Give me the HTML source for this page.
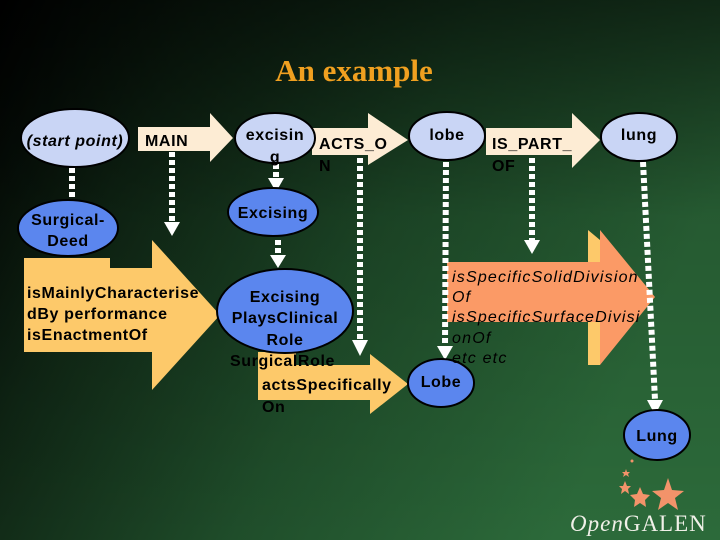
<!DOCTYPE html>
<html><head><style>
html,body{margin:0;padding:0;width:720px;height:540px;overflow:hidden}
svg{display:block}
text{font-family:"Liberation Sans",sans-serif;font-weight:bold;fill:#000}
</style></head><body>
<svg width="720" height="540" viewBox="0 0 720 540" xmlns="http://www.w3.org/2000/svg">
<defs>
<linearGradient id="bg" x1="0" y1="0" x2="1" y2="0.35">
<stop offset="0" stop-color="#000"/>
<stop offset="0.25" stop-color="#0f2514"/>
<stop offset="0.6" stop-color="#1f4d2a"/>
<stop offset="1" stop-color="#2c6a3a"/>
</linearGradient>
<linearGradient id="top" x1="0" y1="0" x2="0" y2="1">
<stop offset="0" stop-color="#000" stop-opacity="0.6"/>
<stop offset="0.4" stop-color="#000" stop-opacity="0.15"/>
<stop offset="1" stop-color="#000" stop-opacity="0"/>
</linearGradient>
</defs>
<rect width="720" height="540" fill="url(#bg)"/>
<rect width="720" height="540" fill="url(#top)"/>

<text x="354" y="81" text-anchor="middle" style="font-family:'Liberation Serif',serif;font-size:31px;fill:#f0a020">An example</text>

<polygon points="24,258 110,258 110,268 152,268 152,240 220,315 152,390 152,352 24,352" fill="#fdc96a"/>
<polygon points="588,230 600,240 600,365 588,365" fill="#fdc96a"/>
<polygon points="447,262 600,262 600,230 655,297 600,365 600,322 447,322" fill="#fb9a66"/>
<polygon points="258,352 296,352 296,365 370,365 370,354 408,384 370,414 370,400 258,400" fill="#fdc96a"/>

<polygon points="138,127 210,127 210,113 233,138 210,162 210,151 138,151" fill="#fdecd4"/>
<polygon points="312,128 368,128 368,113 408,140 368,165 368,155 312,155" fill="#fdecd4"/>
<polygon points="486,128 572,128 572,113 600,140 572,168 572,155 486,155" fill="#fdecd4"/>

<g stroke="#fff" stroke-width="6" stroke-dasharray="5,3" fill="none">
<line x1="72" y1="168" x2="72" y2="215"/>
<line x1="172" y1="152" x2="172" y2="222"/>
<line x1="276" y1="164" x2="276" y2="178"/>
<line x1="278" y1="240" x2="278" y2="255"/>
<line x1="360" y1="158" x2="360" y2="340"/>
<line x1="446" y1="162" x2="445" y2="346"/>
<line x1="532" y1="158" x2="532" y2="240"/>
<line x1="643" y1="162" x2="655" y2="400"/>
</g>
<g fill="#fff">
<polygon points="64,215 80,215 72,232"/>
<polygon points="164,222 180,222 172,236"/>
<polygon points="268,178 284,178 276,192"/>
<polygon points="270,255 286,255 278,268"/>
<polygon points="352,340 368,340 360,356"/>
<polygon points="437,346 453,346 445,360"/>
<polygon points="524,240 540,240 532,254"/>
<polygon points="647,400 663,400 655,415"/>
</g>

<g stroke="#000" stroke-width="2">
<ellipse cx="75" cy="138" rx="54" ry="29" fill="#c9d5f5"/>
<ellipse cx="275" cy="138" rx="40" ry="25" fill="#c9d5f5"/>
<ellipse cx="447" cy="136" rx="38" ry="24" fill="#c9d5f5"/>
<ellipse cx="639" cy="137" rx="38" ry="24" fill="#c9d5f5"/>
<ellipse cx="68" cy="228" rx="50" ry="28" fill="#5b86ee"/>
<ellipse cx="273" cy="212" rx="45" ry="24" fill="#5b86ee"/>
<ellipse cx="285" cy="311" rx="68" ry="42" fill="#5b86ee"/>
<ellipse cx="441" cy="383" rx="33" ry="24" fill="#5b86ee"/>
<ellipse cx="657" cy="435" rx="33" ry="25" fill="#5b86ee"/>
</g>

<g font-size="16" letter-spacing="0.6">
<text x="75" y="146" text-anchor="middle" font-style="italic">(start point)</text>
<text x="145" y="146">MAIN</text>
<text x="275" y="140" text-anchor="middle">excisin</text>
<text x="275" y="162" text-anchor="middle">g</text>
<text x="319" y="149">ACTS_O</text>
<text x="319" y="171">N</text>
<text x="447" y="140" text-anchor="middle">lobe</text>
<text x="492" y="149">IS_PART_</text>
<text x="492" y="171">OF</text>
<text x="639" y="140" text-anchor="middle">lung</text>
<text x="68" y="225" text-anchor="middle">Surgical-</text>
<text x="68" y="246" text-anchor="middle">Deed</text>
<text x="273" y="218" text-anchor="middle">Excising</text>
<text x="285" y="302" text-anchor="middle">Excising</text>
<text x="285" y="323" text-anchor="middle">PlaysClinical</text>
<text x="285" y="345" text-anchor="middle">Role</text>
<text x="230" y="366">SurgicalRole</text>
<text x="262" y="390">actsSpecifically</text>
<text x="262" y="412">On</text>
<text x="441" y="387" text-anchor="middle">Lobe</text>
<text x="657" y="441" text-anchor="middle">Lung</text>
<text x="27" y="298">isMainlyCharacterise</text>
<text x="27" y="319">dBy performance</text>
<text x="27" y="340">isEnactmentOf</text>
</g>
<g font-size="16" font-style="italic" letter-spacing="1.2">
<text x="452" y="282" style="font-weight:normal">isSpecificSolidDivision</text>
<text x="452" y="302" style="font-weight:normal">Of</text>
<text x="452" y="322" style="font-weight:normal">isSpecificSurfaceDivisi</text>
<text x="452" y="343" style="font-weight:normal">onOf</text>
<text x="452" y="363" style="font-weight:normal">etc etc</text>
</g>

<g fill="#f3936a">
<polygon points="668,478 672,490 684,491 675,498 678,510 668,503 658,510 661,498 652,491 664,490"/>
<polygon points="640,487 643,494 650,495 645,500 646,507 640,503 634,507 635,500 630,495 637,494"/>
<polygon points="625,481 627,486 631,486 628,489 629,494 625,491 621,494 622,489 619,486 623,486"/>
<polygon points="626,469 627,472 630,472 628,474 629,477 626,475 623,477 624,474 622,472 625,472"/>
<circle cx="632" cy="461" r="1.5"/>
</g>
<text x="570" y="531" letter-spacing="1" style="font-family:'Liberation Serif',serif;font-weight:normal;font-size:23px;fill:#f0f0e8"><tspan font-style="italic">Open</tspan>GALEN</text>
</svg>
</body></html>
